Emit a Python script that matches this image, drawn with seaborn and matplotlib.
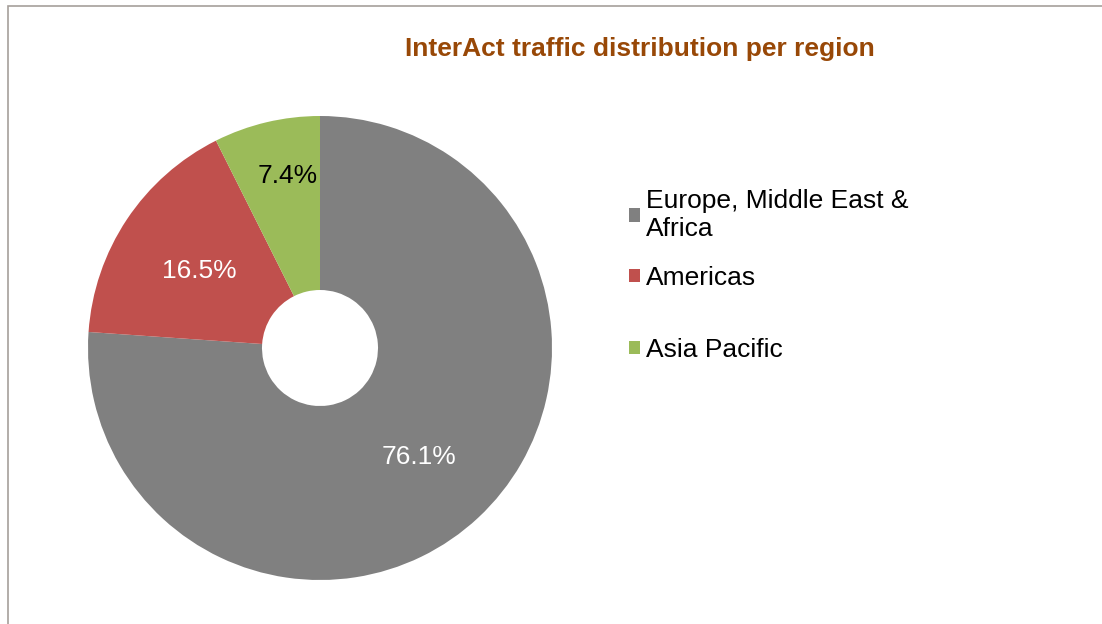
import matplotlib.pyplot as plt
import seaborn as sns
from matplotlib.patches import Rectangle

regions = ["Europe, Middle East &\nAfrica", "Americas", "Asia Pacific"]
shares = [76.1, 16.5, 7.4]
colors = ["#808080", "#C0504D", "#9BBB59"]
label_colors = ["white", "white", "black"]

sns.set_theme(style="white")
plt.rcParams["font.family"] = ["Liberation Sans", "DejaVu Sans"]

W, H = 1102, 624
fig = plt.figure(figsize=(W / 100, H / 100), dpi=100)
fig.patch.set_facecolor("white")

# pie centered at (320, 348) px, radius 232 px
cx, cy, r = 320, 348, 232
ax = fig.add_axes([(cx - r) / W, (H - cy - r) / H, 2 * r / W, 2 * r / H])

wedges, texts, autotexts = ax.pie(
    shares,
    colors=sns.color_palette(colors),
    startangle=90,
    counterclock=False,
    autopct="%.1f%%",
    pctdistance=0.625,
    wedgeprops=dict(width=0.75, edgecolor="none"),
    textprops=dict(fontsize=19),
)
ax.set_xlim(-1, 1)
ax.set_ylim(-1, 1)
ax.set_aspect("equal")
for t, c in zip(autotexts, label_colors):
    t.set_color(c)
    x, y = t.get_position()
    t.set_position((x, y - 0.015))
# the small slice label sits further out
x, y = autotexts[2].get_position()
autotexts[2].set_position((x * 0.74 / 0.625 + 0.03, y * 0.78 / 0.625))

fig.text(640 / W, 1 - 49 / H, "InterAct traffic distribution per region",
         ha="center", va="center", fontsize=19, fontweight="bold", color="#984807")

leg_kw = dict(frameon=False, fontsize=19, handlelength=0.4, handleheight=0.4,
              handletextpad=0.25, borderaxespad=0, borderpad=0, labelcolor="black")
leg1 = fig.legend(wedges[:2], regions[:2], loc="upper left",
                  bbox_to_anchor=(629 / W, 1 - 189 / H), labelspacing=0.95, **leg_kw)
leg2 = fig.legend(wedges[2:], regions[2:], loc="center left",
                  bbox_to_anchor=(629 / W, 1 - 350 / H), **leg_kw)

# chart area border (only the top and left edges are visible)
fig.patches.append(Rectangle((7.5 / W, -0.1), 1.2, 1.1 - 5.5 / H, transform=fig.transFigure,
                             fill=False, edgecolor="#A6A09B", linewidth=1.2))

fig.savefig("out.png", dpi=100)
